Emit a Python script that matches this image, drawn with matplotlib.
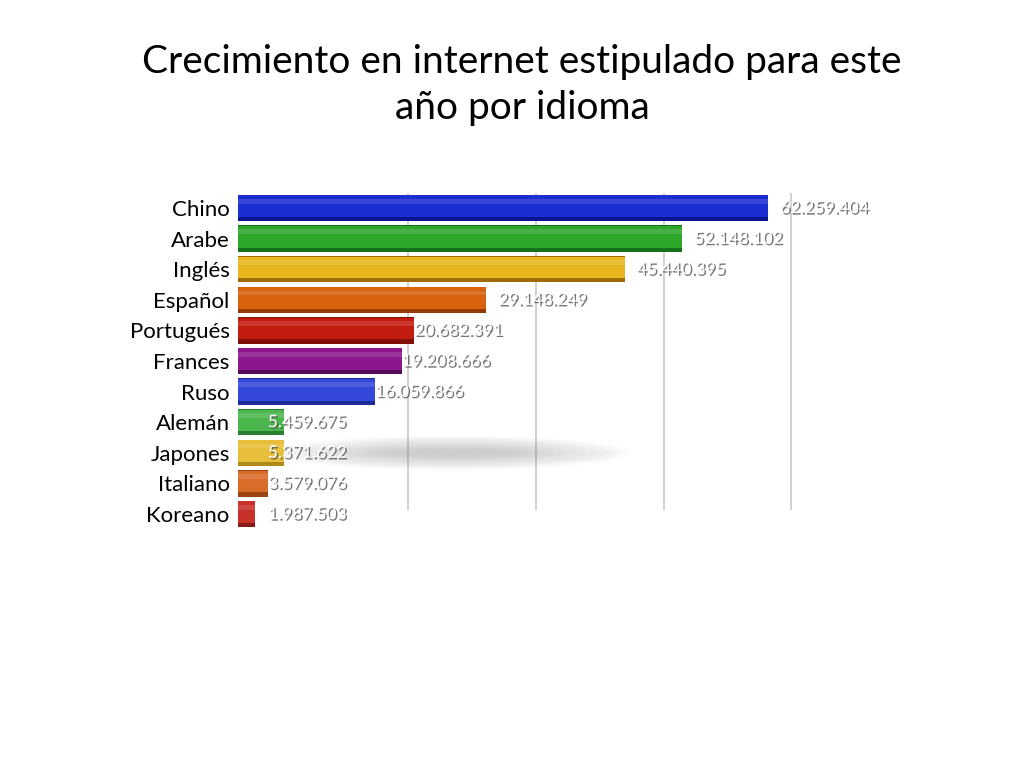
import matplotlib
matplotlib.use("Agg")
import matplotlib.pyplot as plt
import matplotlib.patheffects as pe
from matplotlib.patches import Ellipse
import numpy as np

categories = ["Chino", "Arabe", "Inglés", "Español", "Portugués", "Frances",
              "Ruso", "Alemán", "Japones", "Italiano", "Koreano"]
values = [62259404, 52148102, 45440395, 29148249, 20682391, 19208666,
          16059866, 5459675, 5371622, 3579076, 1987503]
value_labels = ["62.259.404", "52.148.102", "45.440.395", "29.148.249", "20.682.391",
                "19.208.666", "16.059.866", "5.459.675", "5.371.622", "3.579.076", "1.987.503"]
colors = ["#1a2ed2", "#2ea62a", "#e8b61e", "#d8620e", "#c21c10", "#8c168e",
          "#3449da", "#4cb64e", "#e8bf3a", "#da6c2a", "#c8302a"]
dark_colors = ["#0a1490", "#16701a", "#a06a08", "#963a06", "#801008", "#560a5a",
               "#1c2a9a", "#2a8030", "#b08a18", "#9a4414", "#8a1a16"]
grid_values = [20e6, 35e6, 50e6, 65e6]
title = "Crecimiento en internet estipulado para este\naño por idioma"

plt.rcParams['font.family'] = ['Lato', 'DejaVu Sans']

fig = plt.figure(figsize=(10.24, 7.68), dpi=100)
fig.patch.set_facecolor("white")
ax = fig.add_axes([0.2324, 0.3108, 0.582, 0.4383])

y = np.arange(len(categories))
h = 0.86
ax.vlines(grid_values, -0.5, 9.87, colors="#c8c8c8", linewidth=1.2, zorder=0)

# soft floor shadow
for k in range(12):
    ax.add_patch(Ellipse((25e6, 8.0), 42e6 * (1 - k * 0.06), 1.1 * (1 - k * 0.07),
                         facecolor="#808080", edgecolor="none", alpha=0.035, zorder=1))

# dark base (3D underside) and main bar
ax.barh(y, values, height=h, color=dark_colors, zorder=2, left=0)
ax.barh(y - 0.06, values, height=h * 0.82, color=colors, zorder=3)
# highlight strip
ax.barh(y - 0.22, values, height=h * 0.18, color="white", alpha=0.12, zorder=4)

for yi, v, lab in zip(y, values, value_labels):
    if v > 25e6:
        xpos = v + 1.4e6
    elif v > 10e6:
        xpos = v
    else:
        xpos = 3.5e6
    ax.text(xpos, yi, lab, color="white", fontsize=12.5, va="center", ha="left", zorder=6,
            path_effects=[pe.withSimplePatchShadow(offset=(1.2, -1.2), shadow_rgbFace="#555555", alpha=0.8)])

ax.set_yticks(y)
ax.set_yticklabels(categories, fontsize=16, color="black")
ax.tick_params(axis="y", length=0, pad=6)
ax.set_xticks([])
ax.set_xlim(0, 70e6)
ax.set_ylim(10.5, -0.5)
for s in ax.spines.values():
    s.set_visible(False)
ax.set_facecolor("none")

fig.text(0.51, 0.889, title, ha="center", va="center", fontsize=28, linespacing=1.35)

fig.savefig("out.png", dpi=100, facecolor="white")
